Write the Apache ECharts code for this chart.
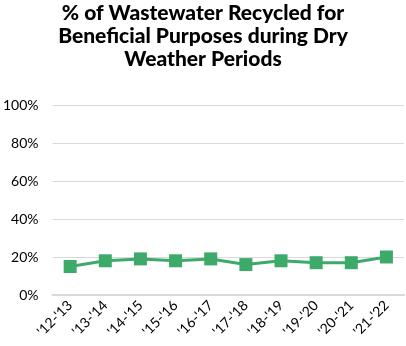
<!DOCTYPE html>
<html>
<head>
<meta charset="utf-8">
<style>
  html, body { margin: 0; padding: 0; background: #fff; }
  #chart { width: 406px; height: 346px; }
</style>
<script src="https://cdn.jsdelivr.net/npm/echarts@6/dist/echarts.min.js"></script>
</head>
<body>
<div id="chart"></div>
<script>
// Fiscal years and share of wastewater recycled (%)
const years = ["'12-'13", "'13-'14", "'14-'15", "'15-'16", "'16-'17", "'17-'18", "'18-'19", "'19-'20", "'20-'21", "'21-'22"];
const recycledPct = [15, 18, 19, 18, 19, 16, 18, 17, 17, 20];
const titleText = "% of Wastewater Recycled for\nBeneficial Purposes during Dry\nWeather Periods";

const chart = echarts.init(document.getElementById('chart'));
chart.setOption({
  animation: false,
  title: {
    text: titleText,
    left: 'center',
    top: -3,
    textStyle: {
      fontFamily: 'Lato',
      fontWeight: 900,
      fontSize: 21,
      lineHeight: 23,
      color: '#000'
    }
  },
  grid: { left: 50, right: 2, top: 105, bottom: 51, containLabel: false },
  xAxis: {
    type: 'category',
    data: years,
    boundaryGap: true,
    axisLine: { show: true, lineStyle: { color: '#d9d9d9', width: 2 } },
    axisTick: { show: false },
    axisLabel: {
      rotate: 45,
      interval: 0,
      fontFamily: 'Lato',
      fontSize: 14,
      color: '#000',
      margin: 8
    }
  },
  yAxis: {
    type: 'value',
    min: 0,
    max: 100,
    interval: 20,
    axisLine: { show: false },
    axisTick: { show: false },
    axisLabel: {
      formatter: '{value}%',
      fontFamily: 'Lato',
      fontSize: 14,
      color: '#000',
      margin: 14
    },
    splitLine: { lineStyle: { color: '#d9d9d9', width: 1 } }
  },
  series: [{
    type: 'line',
    data: recycledPct,
    symbol: 'rect',
    symbolSize: 13,
    lineStyle: { color: '#3daa6a', width: 3 },
    itemStyle: { color: '#3daa6a' }
  }]
});
</script>
</body>
</html>
